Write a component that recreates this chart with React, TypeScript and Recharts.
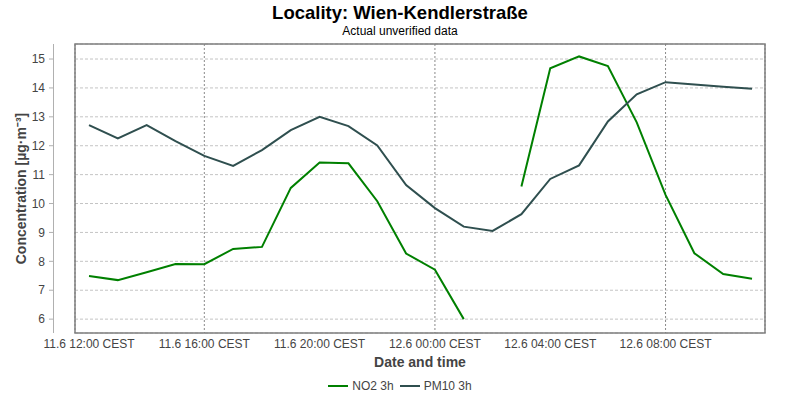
import { LineChart, Line, XAxis, YAxis, CartesianGrid, Legend, ReferenceArea } from 'recharts';

// hours after 11.6 12:00 CEST
const hours = [0, 1, 2, 3, 4, 5, 6, 7, 8, 9, 10, 11, 12, 13, 14, 15, 16, 17, 18, 19, 20, 21, 22, 23];
const no2 = [7.49, 7.35, 7.62, 7.91, 7.9, 8.43, 8.5, 10.54, 11.42, 11.39, 10.08, 8.27, 7.71, 6.0, null, 10.59, 14.68, 15.09, 14.76, 12.81, 10.3, 8.28, 7.56, 7.4];
const pm10 = [12.71, 12.25, 12.71, 12.16, 11.65, 11.3, 11.85, 12.54, 13.0, 12.68, 12.01, 10.64, 9.84, 9.2, 9.05, 9.63, 10.85, 11.32, 12.84, 13.78, 14.2, 14.12, 14.04, 13.97];

const xTicks = [0, 4, 8, 12, 16, 20];
const xTickLabels = ['11.6 12:00 CEST', '11.6 16:00 CEST', '11.6 20:00 CEST', '12.6 00:00 CEST', '12.6 04:00 CEST', '12.6 08:00 CEST'];
const yTicks = [6, 7, 8, 9, 10, 11, 12, 13, 14, 15];

const xDomain: [number, number] = [-0.486, 23.45];
const yDomain: [number, number] = [5.52, 15.52];

const FONT = '"Liberation Sans", Arial, sans-serif';
const TEXT = '#444444';

const data = hours.map((h, i) => ({ h, no2: no2[i], pm10: pm10[i] }));

function YTick({ x, y, payload }: any) {
  return (
    <g>
      <line x1={x - 26} x2={x - 22} y1={y} y2={y} stroke="#b0b0b0" />
      <text x={x - 30} y={y} dy="0.355em" textAnchor="end" fontSize={12} fontFamily={FONT} fill={TEXT}>
        {payload.value}
      </text>
    </g>
  );
}

function LegendContent({ payload }: any) {
  return (
    <div style={{ display: 'flex', justifyContent: 'center', alignItems: 'center', gap: 6, fontFamily: FONT, fontSize: 12, color: TEXT }}>
      {(payload || []).map((p: any) => (
        <span key={p.value} style={{ display: 'flex', alignItems: 'center' }}>
          <svg width={20} height={4} style={{ marginRight: 4 }}>
            <line x1={0} x2={20} y1={2} y2={2} stroke={p.color} strokeWidth={2} />
          </svg>
          {p.value}
        </span>
      ))}
    </div>
  );
}

export default function App() {
  return (
    <div style={{ position: 'absolute', left: 0, top: 0, width: 800, height: 400, background: '#fff' }}>
      <svg width={800} height={60} style={{ position: 'absolute', left: 0, top: 0, pointerEvents: 'none' }}>
        <text x={400} y={19} textAnchor="middle" fontFamily={FONT} fontWeight="bold" fontSize={18.5} fill="#000">
          Locality: Wien-Kendlerstraße
        </text>
        <text x={400} y={35} textAnchor="middle" fontFamily={FONT} fontSize={12} fill="#000">
          Actual unverified data
        </text>
      </svg>
      <div style={{ position: 'absolute', left: 53, top: 44, width: 1, height: 289, background: '#b0b0b0' }} />
      <LineChart width={800} height={400} data={data} margin={{ top: 44, right: 35, bottom: 33, left: 0 }}>
        <CartesianGrid horizontal vertical={false} stroke="#c4c4c4" strokeDasharray="3 2" />
        <CartesianGrid horizontal={false} vertical stroke="#8a8a8a" strokeDasharray="2 2" />
        <XAxis
          dataKey="h"
          type="number"
          domain={xDomain}
          ticks={xTicks}
          allowDataOverflow
          height={34}
          axisLine={false}
          tickLine={false}
          tickSize={0}
          tickMargin={6}
          tick={{ fontSize: 12, fontFamily: FONT, fill: TEXT }}
          tickFormatter={(v: number) => xTickLabels[xTicks.indexOf(v)] ?? ''}
          label={{ value: 'Date and time', position: 'insideBottom', offset: 0, fontSize: 14, fontWeight: 'bold', fontFamily: FONT, fill: TEXT }}
        />
        <YAxis
          type="number"
          domain={yDomain}
          ticks={yTicks}
          allowDataOverflow
          width={75}
          axisLine={false}
          tickLine={false}
          tickSize={0}
          tickMargin={0}
          tick={<YTick />}
          label={{
            value: 'Concentration [µg·m⁻³]',
            angle: -90,
            position: 'insideLeft',
            offset: 21,
            fontSize: 14,
            fontWeight: 'bold',
            fontFamily: FONT,
            fill: TEXT,
            style: { textAnchor: 'middle' },
          }}
        />
        <ReferenceArea x1={xDomain[0]} x2={xDomain[1]} y1={yDomain[0]} y2={yDomain[1]} fill="none" stroke="#7f7f7f" strokeWidth={1.5} ifOverflow="visible" />
        <Line type="linear" dataKey="no2" name="NO2 3h" stroke="#008000" strokeWidth={2} dot={false} connectNulls={false} isAnimationActive={false} />
        <Line type="linear" dataKey="pm10" name="PM10 3h" stroke="#2f4f4f" strokeWidth={2} dot={false} isAnimationActive={false} />
        <Legend
          layout="horizontal"
          verticalAlign="middle"
          align="center"
          wrapperStyle={{ top: 379, left: 0, width: 800, height: 16 }}
          content={<LegendContent />}
        />
      </LineChart>
    </div>
  );
}
